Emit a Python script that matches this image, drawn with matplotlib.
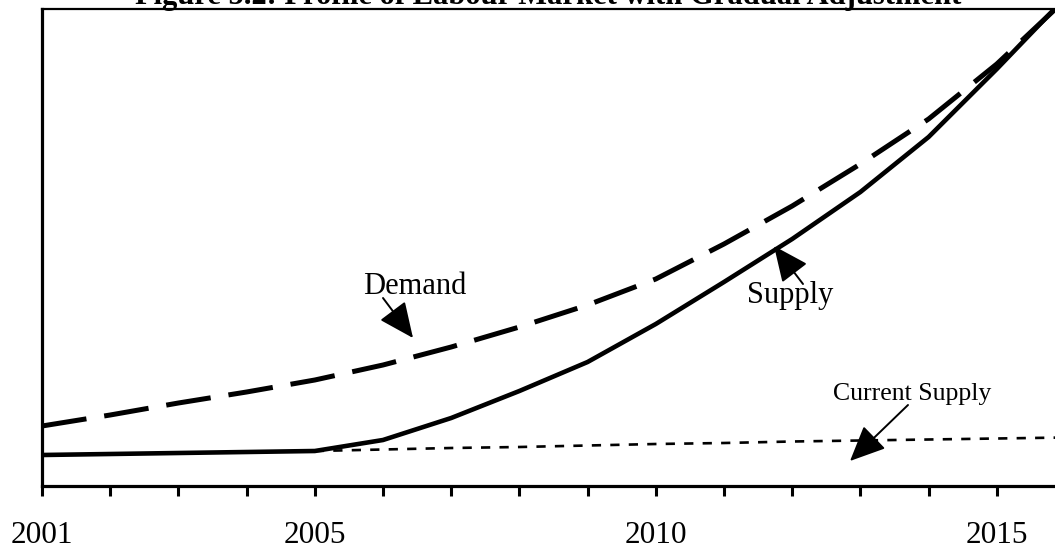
import matplotlib
matplotlib.use("Agg")
import matplotlib.pyplot as plt

plt.rcParams['font.family'] = ['Liberation Serif', 'DejaVu Serif']

years = list(range(2001, 2017))
supply = [31, 32, 33, 34, 35, 46, 68, 95, 124, 162, 204, 247, 294, 349, 417, 488]
demand = [60, 71, 83, 94, 106, 121, 139, 159, 181, 207, 242, 280, 322, 367, 422, 486]
current_years = list(range(2005, 2017))
current_supply = [35, 36.5, 38, 39, 40.5, 42, 43, 44.5, 45.5, 46.5, 47.5, 48.5]
tick_labels = ['2001', '', '', '', '2005', '', '', '', '', '2010', '', '', '', '', '2015', '']

title = "Figure 5.2: Profile of Labour Market with Gradual Adjustment"

W, H = 1055, 550
fig = plt.figure(figsize=(W / 100, H / 100), dpi=100)
ax = fig.add_axes([42 / W, (H - 486) / H, (1065 - 42) / W, (486 - 9) / H])

ax.plot(current_years, current_supply, color='black', lw=1.9,
        linestyle=(0, (3.5, 3.5)), solid_capstyle='butt', zorder=2)
ax.plot(years, demand, color='black', lw=3.6,
        linestyle=(0, (9, 3.6)), dash_capstyle='butt', zorder=3)
ax.plot(years, supply, color='black', lw=3.3, solid_joinstyle='miter', zorder=4)

ax.set_xlim(2001, 2016)
ax.set_ylim(0, 477)
ax.set_xticks(years)
ax.set_xticklabels(tick_labels, fontsize=22.5)
ax.set_yticks([])
ax.tick_params(axis='x', direction='out', length=7.5, width=2.2, pad=18, colors='black')

for s in ['left', 'bottom']:
    ax.spines[s].set_linewidth(2.3)
ax.spines['top'].set_linewidth(1.6)
ax.spines['right'].set_visible(False)

arrow = dict(arrowstyle='-|>,head_length=1.0,head_width=0.45', color='black', lw=1.4,
             shrinkA=0, shrinkB=0, mutation_scale=22)

def px2data(px, py):
    return 2001 + (px - 42) / 68.2, 486 - py

# Demand
ax.text(*px2data(415, 287), 'Demand', fontsize=22, ha='center', va='center')
ax.annotate('', xy=px2data(413, 338), xytext=px2data(383, 298), arrowprops=arrow)
# Supply
ax.text(*px2data(790, 296), 'Supply', fontsize=22, ha='center', va='center')
ax.annotate('', xy=px2data(774, 246), xytext=px2data(803, 284), arrowprops=arrow)
# Current Supply
ax.text(*px2data(912, 394), 'Current Supply', fontsize=18.5, ha='center', va='center')
ax.annotate('', xy=px2data(850, 461), xytext=px2data(908, 405), arrowprops=arrow)

fig.text(548 / W, (H - 4) / H, title, fontsize=22, fontweight='bold',
         ha='center', va='baseline')

fig.savefig('out.png', dpi=100)
